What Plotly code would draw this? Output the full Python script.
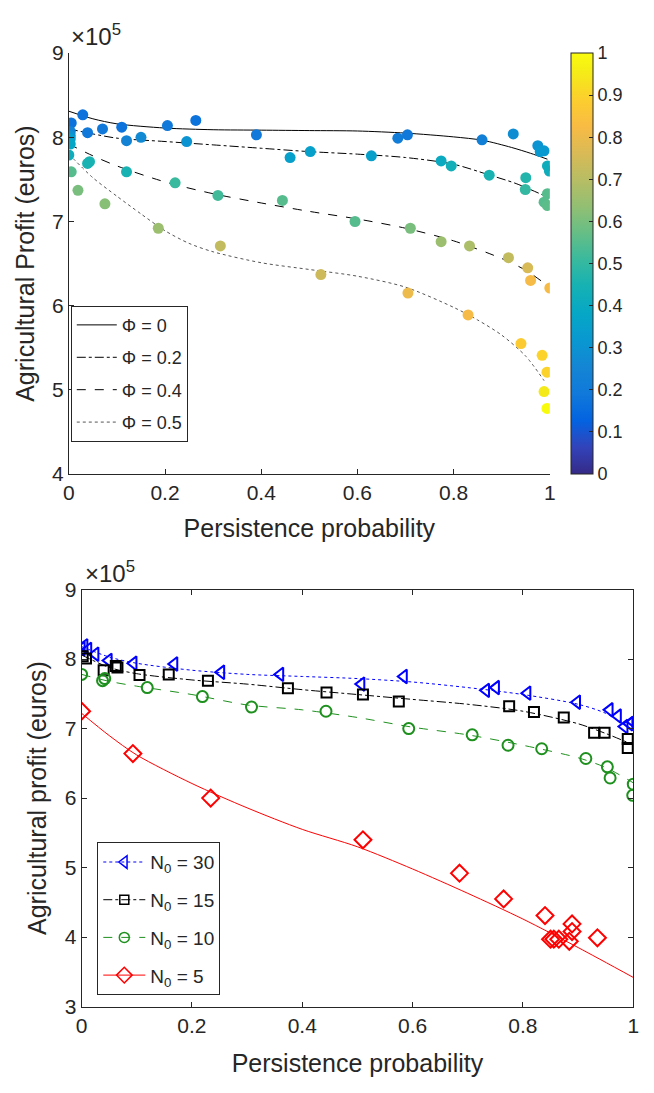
import plotly.graph_objects as go

W, H = 654, 1093
SCALE = 1e5

# ---------------- Top panel data (profit in 1e5 euros, colour value 0..1) ----------------
top_x = [0.029, 0.005, 0.039, 0.07, 0.11, 0.205, 0.264, 0.39, 0.12, 0.15, 0.245, 0.46, 0.502,
         0.003, 0.003, 0.003, 0.003, 0.0, 0.005, 0.043, 0.039, 0.12, 0.221, 0.31, 0.444,
         0.019, 0.075, 0.186, 0.315, 0.629, 0.684, 0.704, 0.859, 0.924, 0.975, 0.988, 0.98,
         0.774, 0.795, 0.874, 0.95, 0.949, 0.995, 0.999, 0.995, 0.988, 0.995, 0.595, 0.71,
         0.774, 0.833, 0.914, 0.954, 0.96, 1.0, 0.524, 0.705, 0.83, 0.94, 0.984, 0.994, 0.988, 0.994]
top_y = [8.267, 8.17, 8.055, 8.10, 8.12, 8.14, 8.20, 8.03, 7.96, 8.0, 7.95, 7.76, 7.83,
         8.07, 8.02, 7.98, 7.92, 7.79, 7.59, 7.71, 7.69, 7.59, 7.46, 7.31, 7.25,
         7.37, 7.21, 6.92, 6.71, 7.78, 7.99, 8.03, 7.97, 8.04, 7.90, 7.84, 7.83,
         7.72, 7.66, 7.55, 7.52, 7.38, 7.66, 7.60, 7.33, 7.23, 7.19, 7.0, 6.92,
         6.76, 6.71, 6.57, 6.45, 6.30, 6.21, 6.37, 6.15, 5.89, 5.55, 5.41, 5.21, 4.98, 4.78]
top_c = [0.17, 0.17, 0.19, 0.19, 0.17, 0.19, 0.17, 0.19, 0.24, 0.27, 0.3, 0.35, 0.35,
         0.24, 0.29, 0.34, 0.38, 0.42, 0.55, 0.45, 0.45, 0.45, 0.51, 0.52, 0.55,
         0.6, 0.62, 0.65, 0.72, 0.35, 0.21, 0.19, 0.22, 0.28, 0.3, 0.32, 0.32,
         0.4, 0.43, 0.45, 0.47, 0.5, 0.42, 0.42, 0.55, 0.55, 0.56, 0.55, 0.6,
         0.65, 0.68, 0.72, 0.76, 0.82, 0.82, 0.74, 0.8, 0.82, 0.88, 0.9, 0.9, 0.95, 1.0]

phi_labels = ["Φ = 0", "Φ = 0.2", "Φ = 0.4", "Φ = 0.5"]
phi0_x = [0, 0.05, 0.1, 0.2, 0.3, 0.4, 0.5, 0.6, 0.7, 0.8, 0.86, 0.92, 0.96, 0.995]
phi0_y = [8.31, 8.22, 8.16, 8.11, 8.09, 8.085, 8.08, 8.075, 8.05, 8.005, 7.965, 7.88, 7.81, 7.74]
phi02_x = [0, 0.05, 0.1, 0.2, 0.3, 0.4, 0.5, 0.6, 0.7, 0.8, 0.87, 0.93, 0.995]
phi02_y = [8.10, 8.04, 7.99, 7.95, 7.91, 7.87, 7.83, 7.80, 7.76, 7.68, 7.56, 7.45, 7.29]
phi04_x = [0, 0.05, 0.1, 0.2, 0.3, 0.4, 0.5, 0.6, 0.7, 0.8, 0.9, 0.95, 0.995]
phi04_y = [7.92, 7.78, 7.66, 7.47, 7.33, 7.22, 7.12, 7.03, 6.92, 6.77, 6.56, 6.42, 6.24]
phi05_x = [0, 0.05, 0.1, 0.15, 0.2, 0.25, 0.3, 0.4, 0.5, 0.6, 0.7, 0.8, 0.85, 0.9, 0.95, 0.988]
phi05_y = [7.80, 7.52, 7.30, 7.09, 6.89, 6.74, 6.64, 6.51, 6.43, 6.35, 6.22, 5.98, 5.83, 5.65, 5.40, 5.11]

# ---------------- Bottom panel data ----------------
n_labels = ["N<sub>0</sub> = 30", "N<sub>0</sub> = 15", "N<sub>0</sub> = 10", "N<sub>0</sub> = 5"]
n30_px = [0.0, 0.005, 0.012, 0.025, 0.049, 0.094, 0.168, 0.253, 0.36, 0.507, 0.584, 0.733, 0.751,
          0.808, 0.898, 0.957, 0.972, 0.984, 0.993, 0.999]
n30_py = [8.15, 8.19, 8.14, 8.07, 7.98, 7.94, 7.93, 7.81, 7.78, 7.64, 7.75, 7.55, 7.59,
          7.51, 7.38, 7.27, 7.18, 7.03, 7.07, 7.10]
n15_px = [0.002, 0.008, 0.04, 0.062, 0.065, 0.105, 0.158, 0.229, 0.374, 0.444, 0.51, 0.575, 0.775,
          0.82, 0.874, 0.929, 0.948, 0.99, 0.99]
n15_py = [8.04, 8.01, 7.84, 7.90, 7.88, 7.77, 7.78, 7.69, 7.58, 7.52, 7.49, 7.39, 7.32,
          7.24, 7.16, 6.94, 6.94, 6.85, 6.72]
n10_px = [0.0, 0.038, 0.042, 0.119, 0.219, 0.308, 0.443, 0.593, 0.708, 0.773, 0.834, 0.914, 0.953,
          0.958, 1.0, 0.999]
n10_py = [7.78, 7.69, 7.72, 7.59, 7.46, 7.31, 7.25, 7.0, 6.91, 6.76, 6.71, 6.57, 6.45,
          6.29, 6.20, 6.04]
n5_px = [0.0, 0.093, 0.234, 0.51, 0.685, 0.765, 0.84, 0.85, 0.856, 0.865, 0.884, 0.889, 0.889, 0.935]
n5_py = [7.25, 6.64, 6.0, 5.4, 4.92, 4.55, 4.31, 3.97, 3.97, 3.97, 3.94, 4.08, 4.19, 3.99]

n30_cx = [0, 0.05, 0.1, 0.2, 0.3, 0.4, 0.5, 0.6, 0.7, 0.8, 0.9, 0.95, 1.0]
n30_cy = [8.18, 8.03, 7.94, 7.84, 7.78, 7.75, 7.72, 7.67, 7.59, 7.49, 7.35, 7.22, 6.98]
n15_cx = [0, 0.05, 0.1, 0.2, 0.3, 0.4, 0.5, 0.6, 0.7, 0.8, 0.9, 0.95, 0.99]
n15_cy = [8.06, 7.88, 7.79, 7.70, 7.64, 7.56, 7.49, 7.42, 7.35, 7.25, 7.07, 6.93, 6.80]
n10_cx = [0, 0.05, 0.1, 0.2, 0.3, 0.4, 0.5, 0.6, 0.7, 0.8, 0.9, 0.95, 1.0]
n10_cy = [7.78, 7.68, 7.61, 7.49, 7.34, 7.27, 7.16, 7.02, 6.91, 6.76, 6.58, 6.44, 6.22]
n5_cx = [0, 0.05, 0.1, 0.2, 0.3, 0.4, 0.5, 0.6, 0.7, 0.8, 0.9, 1.0]
n5_cy = [7.22, 6.90, 6.62, 6.21, 5.86, 5.55, 5.30, 4.98, 4.63, 4.26, 3.85, 3.42]

x_ticks = [0, 0.2, 0.4, 0.6, 0.8, 1]
x_ticktext = ["0", "0.2", "0.4", "0.6", "0.8", "1"]
top_yticks = [4, 5, 6, 7, 8, 9]
bot_yticks = [3, 4, 5, 6, 7, 8, 9]
cbar_ticks = [0, 0.1, 0.2, 0.3, 0.4, 0.5, 0.6, 0.7, 0.8, 0.9, 1]

# parula colour map (styling)
parula = [(0.2081, 0.1663, 0.5292), (0.1959, 0.2645, 0.7279), (0.0117, 0.3875, 0.8820),
          (0.0629, 0.4737, 0.8554), (0.0793, 0.5200, 0.8312), (0.0343, 0.5966, 0.8199),
          (0.0228, 0.6535, 0.7768), (0.0843, 0.6928, 0.7062), (0.2178, 0.7250, 0.6193),
          (0.3953, 0.7459, 0.5244), (0.5709, 0.7485, 0.4494), (0.7184, 0.7411, 0.3905),
          (0.8507, 0.7299, 0.3360), (0.9739, 0.7314, 0.2666), (0.9880, 0.8066, 0.1794),
          (0.9598, 0.9218, 0.0948), (0.9763, 0.9831, 0.0538)]
idx = [0, 4, 8, 12, 16, 20, 24, 28, 32, 36, 40, 44, 48, 52, 56, 60, 63]
colorscale = [[i / 63, "rgb(%d,%d,%d)" % tuple(round(255 * v) for v in c)] for i, c in zip(idx, parula)]

FONT = "Liberation Sans, Arial, Helvetica, sans-serif"
AX = "#262626"
TICK = 21
TITLE = 25

def eur(vals):
    return [v * SCALE for v in vals]

fig = go.Figure()

# ---- top: fitted curves ----
top_curves = [(phi0_x, phi0_y, "solid", "#000000"), (phi02_x, phi02_y, "dashdot", "#000000"),
              (phi04_x, phi04_y, "dash", "#000000"), (phi05_x, phi05_y, "dot", "#555555")]
for i, (cx, cy, dash, col) in enumerate(top_curves):
    fig.add_trace(go.Scatter(x=cx, y=eur(cy), mode="lines", line=dict(color=col, width=1, dash=dash, shape="spline", smoothing=0.8),
                             name=phi_labels[i], legend="legend", legendgroup="p%d" % i,
                             xaxis="x", yaxis="y", hoverinfo="skip"))

fig.add_trace(go.Scatter(x=top_x, y=eur(top_y), mode="markers", showlegend=False, xaxis="x", yaxis="y",
                         marker=dict(size=11, color=top_c, colorscale=colorscale, cmin=0, cmax=1,
                                     line=dict(width=0),
                                     colorbar=dict(x=576 / W, xanchor="left", xpad=0, ypad=0,
                                                   y=1 - 472 / H, yanchor="bottom", len=430 / H, lenmode="fraction",
                                                   thickness=22, thicknessmode="pixels",
                                                   outlinecolor=AX, outlinewidth=1,
                                                   ticks="inside", ticklen=4, tickcolor=AX,
                                                   tickvals=cbar_ticks, tickfont=dict(size=18, color=AX, family=FONT))),
                         ))

# ---- bottom ----
bot = [(n30_px, n30_py, n30_cx, n30_cy, "#0000FF", "dot", "triangle-left-open", 12),
       (n15_px, n15_py, n15_cx, n15_cy, "#000000", "dashdot", "square-open", 10),
       (n10_px, n10_py, n10_cx, n10_cy, "#1E901E", "dash", "circle-open", 11),
       (n5_px, n5_py, n5_cx, n5_cy, "#FF0000", "solid", "diamond-open", 13)]
for i, (px, py, cx, cy, col, dash, sym, sz) in enumerate(bot):
    fig.add_trace(go.Scatter(x=cx, y=eur(cy), mode="lines", line=dict(color=col, width=1, dash=dash, shape="spline", smoothing=0.8),
                             showlegend=False, xaxis="x2", yaxis="y2", hoverinfo="skip"))
    fig.add_trace(go.Scatter(x=px, y=eur(py), mode="markers", showlegend=False, xaxis="x2", yaxis="y2",
                             marker=dict(symbol=sym, size=sz, color=col, line=dict(width=2, color=col))))
    fig.add_trace(go.Scatter(x=[None], y=[None], mode="lines+markers", name=n_labels[i],
                             legend="legend2", legendgroup="n%d" % i, xaxis="x2", yaxis="y2",
                             line=dict(color=col, width=1, dash=dash),
                             marker=dict(symbol=sym, size=sz - 1, color=col, line=dict(width=1.5, color=col))))

axis_common = dict(showgrid=False, zeroline=False, showline=True, linecolor=AX, linewidth=1,
                   ticks="inside", ticklen=5, tickcolor=AX, tickfont=dict(size=TICK, color=AX, family=FONT))

fig.update_layout(
    width=W, height=H, margin=dict(l=0, r=0, t=0, b=0),
    paper_bgcolor="white", plot_bgcolor="white",
    font=dict(family=FONT, color=AX),
    xaxis=dict(domain=[64 / W, 554 / W], anchor="y", range=[0, 1], tickvals=x_ticks, ticktext=x_ticktext,
               title=dict(text="Persistence probability", font=dict(size=TITLE, color=AX), standoff=16), **axis_common),
    yaxis=dict(domain=[1 - 472 / H, 1 - 42 / H], anchor="x", range=[4 * SCALE, 9 * SCALE],
               tickvals=eur(top_yticks), ticktext=[str(v) for v in top_yticks],
               title=dict(text="Agricultural Profit (euros)", font=dict(size=TITLE, color=AX), standoff=10), **axis_common),
    xaxis2=dict(domain=[77 / W, 639 / W], anchor="y2", range=[0, 1], tickvals=x_ticks, ticktext=x_ticktext,
                mirror="ticks",
                title=dict(text="Persistence probability", font=dict(size=TITLE, color=AX), standoff=18), **axis_common),
    yaxis2=dict(domain=[1 - 1016 / H, 1 - 590 / H], anchor="x2", range=[3 * SCALE, 9 * SCALE],
                tickvals=eur(bot_yticks), ticktext=[str(v) for v in bot_yticks], mirror="ticks",
                title=dict(text="Agricultural profit (euros)", font=dict(size=TITLE, color=AX), standoff=10), **axis_common),
    legend=dict(x=66 / W, y=1 - 300 / H, xanchor="left", yanchor="top", bgcolor="white",
                bordercolor=AX, borderwidth=1, font=dict(size=18, color=AX, family=FONT),
                tracegroupgap=6, itemwidth=40),
    legend2=dict(x=93 / W, y=1 - 848 / H, xanchor="left", yanchor="top", bgcolor="white",
                 bordercolor=AX, borderwidth=1, font=dict(size=19, color=AX, family=FONT),
                 tracegroupgap=10, itemwidth=42),
    annotations=[
        dict(text="×10<sup>5</sup>", x=64 / W, y=1 - 23 / H, xref="paper", yref="paper", xanchor="left",
             yanchor="middle", showarrow=False, font=dict(size=24, color=AX, family=FONT)),
        dict(text="×10<sup>5</sup>", x=78 / W, y=1 - 572 / H, xref="paper", yref="paper", xanchor="left",
             yanchor="middle", showarrow=False, font=dict(size=24, color=AX, family=FONT)),
    ],
)

fig.write_html("out.html")
